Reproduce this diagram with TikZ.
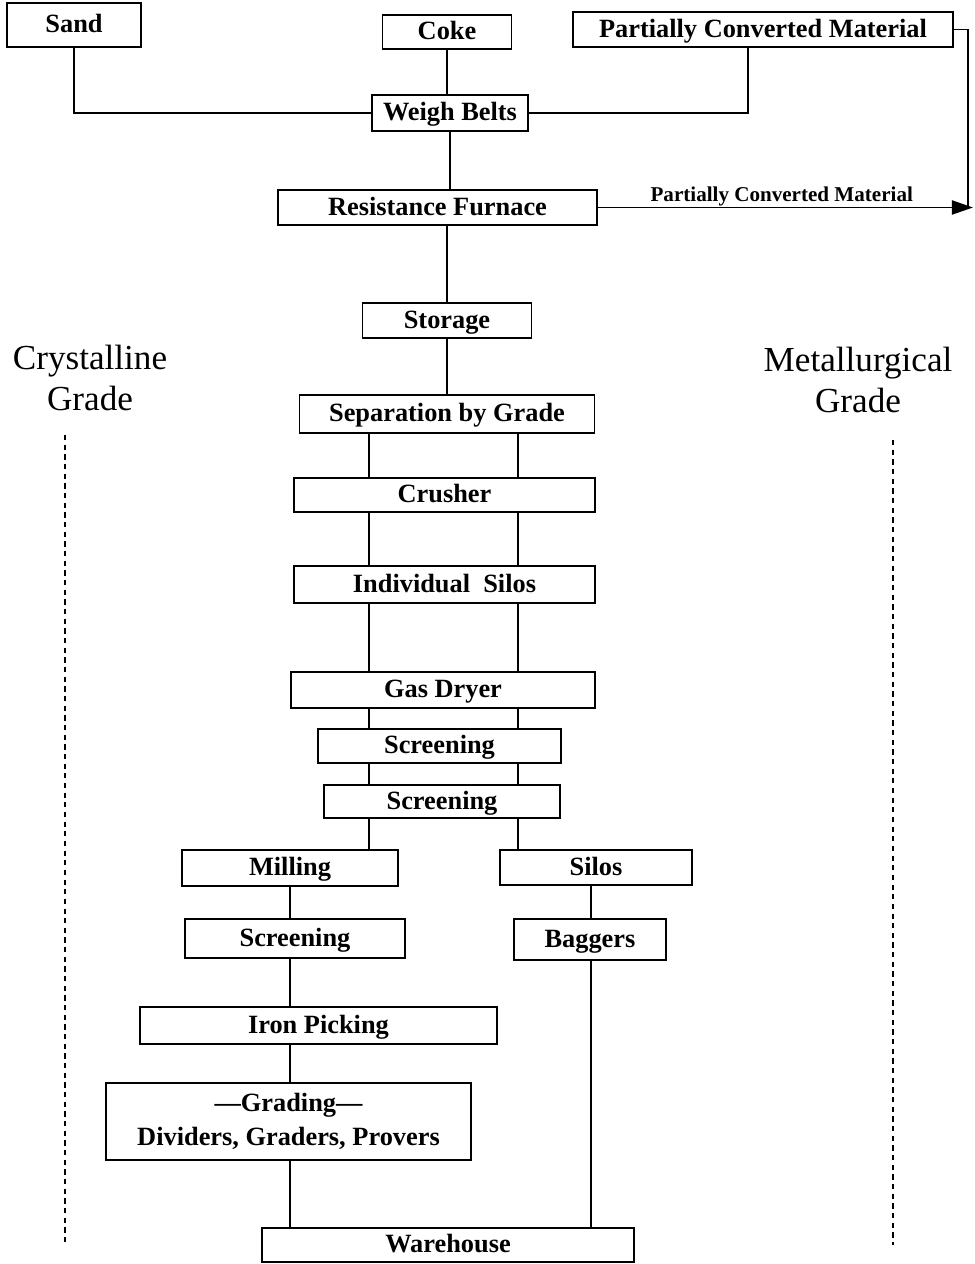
\documentclass[tikz,border=0pt]{standalone}
\usepackage{fontspec}
\setmainfont{Liberation Serif}
\usetikzlibrary{arrows.meta,calc,positioning}

\tikzset{
  frame/.style={draw,line width=1.1pt,inner sep=0pt,font=\fontsize{15}{19}\selectfont\bfseries},
  box/.style={frame,text height=12pt,text depth=3pt},
  wh/.style 2 args={minimum width=#1*0.02cm,minimum height=#2*0.02cm},
  flow/.style={line width=1.1pt},
  feed/.style={line width=1.6pt},
  grade/.style={align=center,font=\fontsize{20}{23}\selectfont},
  guide/.style={line width=1pt,dash pattern=on 3pt off 2.5pt},
}

\begin{document}
\begin{tikzpicture}[x=0.02cm,y=-0.02cm,>=Stealth]
\useasboundingbox (0,0) rectangle (974,1264);
\node[box,wh={134}{44}] (sand) at (74,25) {Sand};
\node[box,wh={129}{34}] (coke) at (447,32) {Coke};
\node[box,wh={380}{35}] (pcm) at (763,29.5) {Partially Converted Material};
\node[box,wh={156}{36}] (weigh) at (450,113) {Weigh Belts};
\node[box,wh={319}{35}] (furnace) at (437.5,207.5) {Resistance Furnace};
\node[box,wh={169}{35}] (store) at (447,320.5) {Storage};
\node[box,wh={295}{38}] (sep) at (447,414) {Separation by Grade};
\node[box,wh={301}{34}] (crush) at (444.5,495) {Crusher};
\node[box,wh={301}{37}] (isilo) at (444.5,584.5) {Individual\ \ Silos};
\node[box,wh={304}{36}] (dryer) at (443,690) {Gas Dryer};
\node[box,wh={243}{34}] (scrA) at (439.5,746) {Screening};
\node[box,wh={236}{33}] (scrB) at (442,801.5) {Screening};
\node[box,wh={216}{36}] (mill) at (290,868) {Milling};
\node[box,wh={192}{35}] (silo) at (596,867.5) {Silos};
\node[box,wh={220}{39}] (scrC) at (295,938.5) {Screening};
\node[box,wh={152}{41}] (bag) at (590,939.5) {Baggers};
\node[box,wh={357}{37}] (iron) at (318.5,1025.5) {Iron Picking};
\node[frame,wh={365}{77},align=center] (grad) at (288.5,1121.5) {---Grading---\\Dividers, Graders, Provers};
\node[box,wh={372}{34}] (ware) at (448,1245) {Warehouse};
\node[grade] (cryst) at (90,378) {Crystalline\\Grade};
\node[grade] (metal) at (858,380) {Metallurgical\\Grade};

\draw[feed] (sand.south) |- (weigh.west);
\draw[feed] ($(pcm.south)+(-15,0)$) |- (weigh.east);
\draw[flow] (coke.south) -- (coke.south |- weigh.north);
\draw[flow] (weigh.south) -- (weigh.south |- furnace.north);
\draw[flow] (store.north |- furnace.south) -- (store.north);
\draw[flow] (store.south) -- (store.south |- sep.north);

\coordinate (tip) at (973,207.5);
\draw[flow,-{Triangle[length=12pt,width=8pt]}] (furnace.east) -- (tip)
  node[pos=0.49,above=-3pt,font=\fontsize{12}{14}\selectfont\bfseries] (pcmlabel) {Partially Converted Material};
\draw[flow] (pcm.east) -| ($(tip)+(-5,0)$);

\coordinate (cl) at (369,0);
\coordinate (cr) at (518,0);
\foreach \a/\b in {sep/crush,crush/isilo,isilo/dryer,dryer/scrA,scrA/scrB}{
  \draw[flow] (\a.south -| cl) -- (\b.north -| cl);
  \draw[flow] (\a.south -| cr) -- (\b.north -| cr);
}
\draw[flow] (scrB.south -| cl) -- (mill.north -| cl);
\draw[flow] (scrB.south -| cr) -- (silo.north -| cr);

\coordinate (ck) at (290,0);
\coordinate (cm) at (591,0);
\foreach \a/\b in {mill/scrC,scrC/iron,iron/grad,grad/ware}
  \draw[flow] (\a.south -| ck) -- (\b.north -| ck);
\foreach \a/\b in {silo/bag,bag/ware}
  \draw[flow] (\a.south -| cm) -- (\b.north -| cm);

\draw[guide] (65,435) -- (65,1245);
\draw[guide] (893,440) -- (893,1245);
\end{tikzpicture}
\end{document}
